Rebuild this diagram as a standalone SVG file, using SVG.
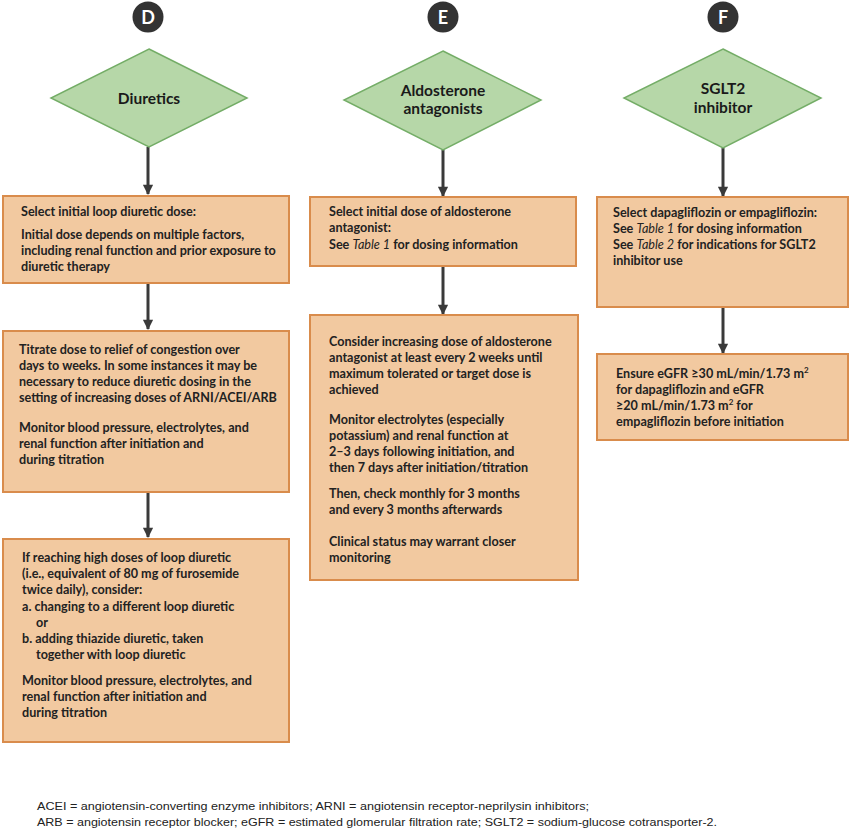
<svg xmlns="http://www.w3.org/2000/svg" width="850" height="832" viewBox="0 0 850 832">
<defs>
<marker id="ah" viewBox="0 0 10 10" refX="9" refY="5" markerWidth="4" markerHeight="3.4" orient="auto" markerUnits="strokeWidth">
<path d="M0,0 L10,5 L0,10 z" fill="#3a3a3a"/>
</marker>
<style>
.badge{fill:#333333}
.badget{fill:#ffffff;font-family:Lato,"Liberation Sans",sans-serif;font-weight:bold;font-size:18px;text-anchor:middle}
.dia{fill:#b6d7a8;stroke:#74ad67;stroke-width:1.5}
.diat{fill:#1a1a1a;font-family:Lato,"Liberation Sans",sans-serif;font-weight:bold;font-size:15.5px;text-anchor:middle}
.box{fill:#f2c9a0;stroke:#d98c4c;stroke-width:2}
.bt{fill:#222222;font-family:Lato,"Liberation Sans",sans-serif;font-weight:bold;font-size:12.6px}
.conn{stroke:#3a3a3a;stroke-width:3;fill:none}
.foot{fill:#222222;font-family:"Liberation Sans",Arial,sans-serif;font-size:11.5px}
</style>
</defs>
<rect width="850" height="832" fill="#ffffff"/>

<g id="connectors">
<line class="conn" x1="148" y1="147" x2="148" y2="194" marker-end="url(#ah)"/>
<line class="conn" x1="148" y1="284" x2="148" y2="329" marker-end="url(#ah)"/>
<line class="conn" x1="148" y1="493" x2="148" y2="537" marker-end="url(#ah)"/>
<line class="conn" x1="443" y1="150" x2="443" y2="196" marker-end="url(#ah)"/>
<line class="conn" x1="443" y1="267" x2="443" y2="314" marker-end="url(#ah)"/>
<line class="conn" x1="723" y1="148" x2="723" y2="196" marker-end="url(#ah)"/>
<line class="conn" x1="723" y1="308" x2="723" y2="353" marker-end="url(#ah)"/>
</g>

<g id="badgeD"><circle class="badge" cx="148" cy="17" r="15.5"/><text class="badget" x="148" y="23.5">D</text></g>
<g id="badgeE"><circle class="badge" cx="443" cy="17" r="15.5"/><text class="badget" x="443" y="23.5">E</text></g>
<g id="badgeF"><circle class="badge" cx="723" cy="17" r="15.5"/><text class="badget" x="723" y="23.5">F</text></g>

<g id="diamondD"><polygon class="dia" points="149,49 247,98 149,147 51,98"/><text class="diat" x="149" y="104">Diuretics</text></g>
<g id="diamondE"><polygon class="dia" points="443,51 541,100 443,150 344,100"/><text class="diat" x="443" y="96">Aldosterone</text><text class="diat" x="443" y="114">antagonists</text></g>
<g id="diamondF"><polygon class="dia" points="723,49 821,98 723,148 624,98"/><text class="diat" x="723" y="94">SGLT2</text><text class="diat" x="723" y="113">inhibitor</text></g>

<g id="boxD1"><rect class="box" x="3" y="196" width="286" height="87"/>
<text class="bt" x="21" y="216">Select initial loop diuretic dose:</text>
<text class="bt" x="21" y="239">Initial dose depends on multiple factors,</text>
<text class="bt" x="21" y="255">including renal function and prior exposure to</text>
<text class="bt" x="21" y="271">diuretic therapy</text>
</g>

<g id="boxD2"><rect class="box" x="3" y="331" width="286" height="161"/>
<text class="bt" x="19" y="354">Titrate dose to relief of congestion over</text>
<text class="bt" x="19" y="370">days to weeks. In some instances it may be</text>
<text class="bt" x="19" y="386">necessary to reduce diuretic dosing in the</text>
<text class="bt" x="19" y="402">setting of increasing doses of ARNI/ACEI/ARB</text>
<text class="bt" x="19" y="432">Monitor blood pressure, electrolytes, and</text>
<text class="bt" x="19" y="448">renal function after initiation and</text>
<text class="bt" x="19" y="464">during titration</text>
</g>

<g id="boxD3"><rect class="box" x="3" y="539" width="286" height="203"/>
<text class="bt" x="22" y="562">If reaching high doses of loop diuretic</text>
<text class="bt" x="22" y="578">(i.e., equivalent of 80 mg of furosemide</text>
<text class="bt" x="22" y="594">twice daily), consider:</text>
<text class="bt" x="22" y="611">a. changing to a different loop diuretic</text>
<text class="bt" x="36" y="627">or</text>
<text class="bt" x="22" y="643">b. adding thiazide diuretic, taken</text>
<text class="bt" x="36" y="659">together with loop diuretic</text>
<text class="bt" x="22" y="685">Monitor blood pressure, electrolytes, and</text>
<text class="bt" x="22" y="701">renal function after initiation and</text>
<text class="bt" x="22" y="717">during titration</text>
</g>

<g id="boxE1"><rect class="box" x="310" y="197" width="266" height="69"/>
<text class="bt" x="329" y="216">Select initial dose of aldosterone</text>
<text class="bt" x="329" y="232">antagonist:</text>
<text class="bt" x="329" y="249">See <tspan font-style="italic" font-weight="normal">Table 1</tspan> for dosing information</text>
</g>

<g id="boxE2"><rect class="box" x="310" y="315" width="268" height="265"/>
<text class="bt" x="329" y="346">Consider increasing dose of aldosterone</text>
<text class="bt" x="329" y="362">antagonist at least every 2 weeks until</text>
<text class="bt" x="329" y="378">maximum tolerated or target dose is</text>
<text class="bt" x="329" y="394">achieved</text>
<text class="bt" x="329" y="424">Monitor electrolytes (especially</text>
<text class="bt" x="329" y="440">potassium) and renal function at</text>
<text class="bt" x="329" y="456">2–3 days following initiation, and</text>
<text class="bt" x="329" y="472">then 7 days after initiation/titration</text>
<text class="bt" x="329" y="498">Then, check monthly for 3 months</text>
<text class="bt" x="329" y="514">and every 3 months afterwards</text>
<text class="bt" x="329" y="546">Clinical status may warrant closer</text>
<text class="bt" x="329" y="562">monitoring</text>
</g>

<g id="boxF1"><rect class="box" x="597" y="197" width="251" height="110"/>
<text class="bt" x="613" y="217">Select dapagliflozin or empagliflozin:</text>
<text class="bt" x="613" y="233">See <tspan font-style="italic" font-weight="normal">Table 1</tspan> for dosing information</text>
<text class="bt" x="613" y="249">See <tspan font-style="italic" font-weight="normal">Table 2</tspan> for indications for SGLT2</text>
<text class="bt" x="613" y="265">inhibitor use</text>
</g>

<g id="boxF2"><rect class="box" x="597" y="354" width="251" height="86"/>
<text class="bt" x="616" y="378">Ensure eGFR ≥30 mL/min/1.73 m<tspan font-size="8" dy="-5">2</tspan></text>
<text class="bt" x="616" y="394">for dapagliflozin and eGFR</text>
<text class="bt" x="616" y="410">≥20 mL/min/1.73 m<tspan font-size="8" dy="-5">2</tspan><tspan dy="5"> for</tspan></text>
<text class="bt" x="616" y="426">empagliflozin before initiation</text>
</g>

<g id="footer">
<text class="foot" x="37" y="810" textLength="552" lengthAdjust="spacingAndGlyphs">ACEI = angiotensin-converting enzyme inhibitors; ARNI = angiotensin receptor-neprilysin inhibitors;</text>
<text class="foot" x="37" y="826" textLength="680" lengthAdjust="spacingAndGlyphs">ARB = angiotensin receptor blocker; eGFR = estimated glomerular filtration rate; SGLT2 = sodium-glucose cotransporter-2.</text>
</g>
</svg>
